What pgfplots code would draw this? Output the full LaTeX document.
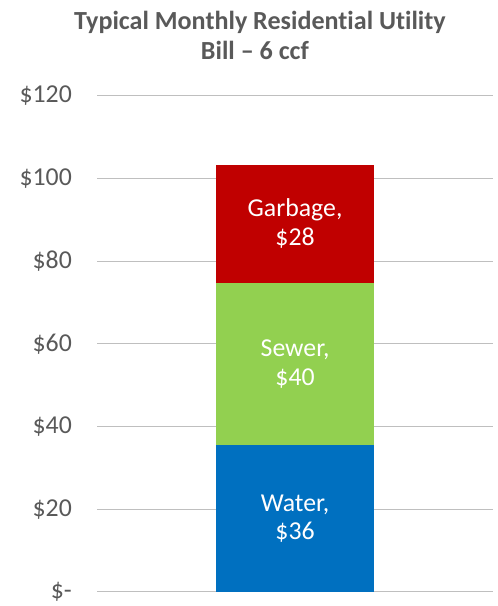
\documentclass[border=0pt]{standalone}
\usepackage{pgfplots}
\pgfplotsset{compat=1.18}
\usepackage{fontspec}
\setmainfont{Carlito}[Ligatures=NoCommon]
\definecolor{waterc}{HTML}{0070C0}
\definecolor{sewerc}{HTML}{92D050}
\definecolor{garbc}{HTML}{C00000}
\definecolor{txt}{HTML}{595959}
\definecolor{gridc}{HTML}{BFBFBF}
\begin{document}
\begin{tikzpicture}
\useasboundingbox (0,-5pt) rectangle (502pt,606pt);
\begin{axis}[
  at={(98pt,9.3pt)}, anchor=south west,
  scale only axis, width=399pt, height=500pt,
  ybar stacked, bar width=0.802,
  xmin=-1, xmax=1, ymin=0, ymax=120,
  axis line style={draw=none},
  xtick=\empty,
  ytick={0,20,40,60,80,100,120},
  yticklabels={\$-,\$20,\$40,\$60,\$80,\$100,\$120},
  yticklabel style={font=\fontsize{26}{31}\selectfont, text=txt, xshift=-22pt},
  major tick length=0pt,
  ymajorgrids, grid style={gridc, line width=1pt},
]
\addplot[fill=waterc, draw=none] coordinates {(0,35.45)};
\addplot[fill=sewerc, draw=none] coordinates {(0,39.35)};
\addplot[fill=garbc, draw=none] coordinates {(0,28.6)};
\coordinate (w) at (axis cs:0,17.7);
\coordinate (s) at (axis cs:0,55.1);
\coordinate (g) at (axis cs:0,89.1);
\end{axis}
\node[align=center, text=white, font=\fontsize{26}{29}\selectfont] at (w) {Water,\\\$36};
\node[align=center, text=white, font=\fontsize{26}{29}\selectfont] at (s) {Sewer,\\\$40};
\node[align=center, text=white, font=\fontsize{26}{29}\selectfont] at (g) {Garbage,\\\$28};
\node[text=txt, font=\bfseries\fontsize{26.3}{30}\selectfont, anchor=base] at (262pt,576pt) {Typical Monthly Residential Utility};
\node[text=txt, font=\bfseries\fontsize{26.3}{30}\selectfont, anchor=base] at (257pt,546pt) {Bill -- 6 ccf};
\end{tikzpicture}
\end{document}
